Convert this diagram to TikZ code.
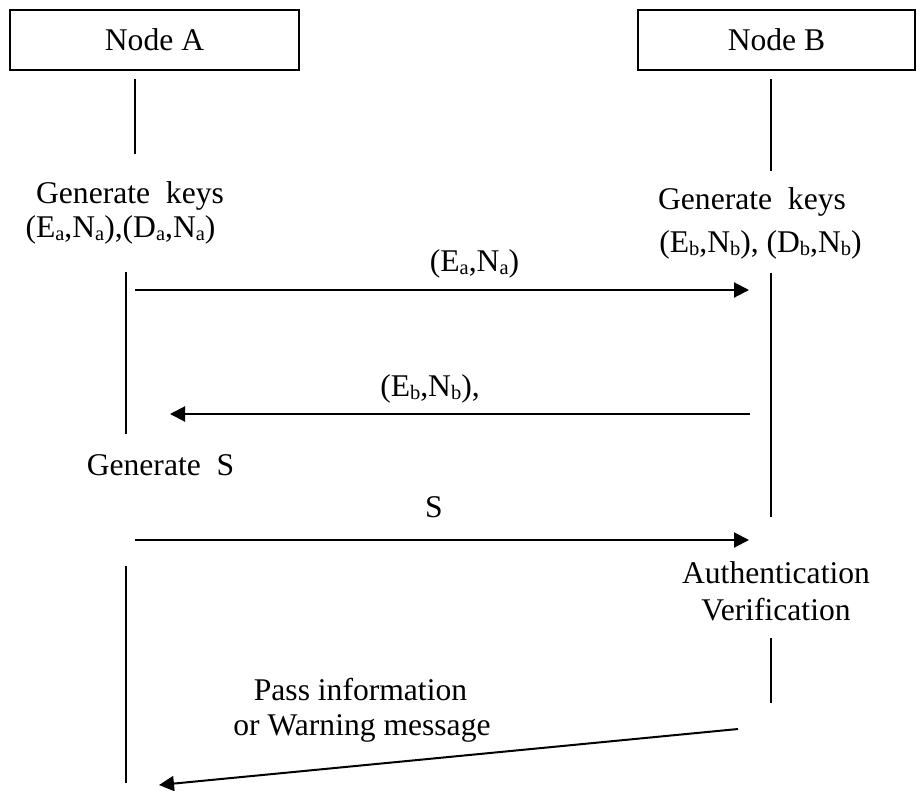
\documentclass[tikz,border=0pt]{standalone}
\usepackage{fontspec}
\setmainfont{Liberation Serif}
\usetikzlibrary{arrows.meta}
% lowered, smaller index letter (E_a, N_b, ...)
\newcommand\lowr[1]{\raisebox{-3.5pt}{\fontsize{20.5pt}{22pt}\selectfont #1}}
\begin{document}
\begin{tikzpicture}[x=1pt,y=-1pt,
  every node/.style={font=\fontsize{31.6pt}{36pt}\selectfont, inner sep=0pt},
  party/.style={draw, line width=2pt, minimum height=60pt},
  txt/.style={anchor=base},
  life/.style={line width=1.8pt},
  msg/.style={line width=2pt, -{Triangle[length=15pt,width=15pt]}}]
\useasboundingbox (0,0) rectangle (917,790);

% participants
\node[party, minimum width=289pt] (boxA) at (154.5,40) {Node A};
\node[party, minimum width=277pt] (boxB) at (776.5,40) {Node B};

% lifeline pieces of Node A
\coordinate (a1t) at (135,79);  \coordinate (a1b) at (135,154);
\coordinate (a2t) at (126,272); \coordinate (a2b) at (126,434);
\coordinate (a3t) at (126,566); \coordinate (a3b) at (126,783);
% lifeline pieces of Node B
\coordinate (b1t) at (771,79);  \coordinate (b1b) at (771,171);
\coordinate (b2t) at (771,273); \coordinate (b2b) at (771,517);
\coordinate (b3t) at (771,638); \coordinate (b3b) at (771,703);

\draw[life] (a1t) -- (a1b);
\draw[life] (a2t) -- (a2b);
\draw[life] (a3t) -- (a3b);
\draw[life] (b1t) -- (b1b);
\draw[life] (b2t) -- (b2b);
\draw[life] (b3t) -- (b3b);

% message end points
\coordinate (m1s) at (135,290); \coordinate (m1e) at (749,290);
\coordinate (m2s) at (750,414); \coordinate (m2e) at (170,414);
\coordinate (m3s) at (135,540); \coordinate (m3e) at (749,540);
\coordinate (m4s) at (738,729); \coordinate (m4e) at (159,785);

\draw[msg] (m1s) -- (m1e);
\draw[msg] (m2s) -- (m2e);
\draw[msg] (m3s) -- (m3e);
\draw[msg] (m4s) -- (m4e);

% texts
\node[txt] (genA)  at (130,203) {Generate~~keys};
\node[txt] (keysA) at (120.5,237) {(E\lowr{a},N\lowr{a}),(D\lowr{a},N\lowr{a})};
\node[txt] (genB)  at (752,209) {Generate~~keys};
\node[txt] (keysB) at (760.5,252) {(E\lowr{b},N\lowr{b}), (D\lowr{b},N\lowr{b})};
\node[txt] (pubA)  at (474.5,271) {(E\lowr{a},N\lowr{a})};
\node[txt] (pubB)  at (430,396) {(E\lowr{b},N\lowr{b}),};
\node[txt] (genS)  at (160.5,475) {Generate~~S};
\node[txt] (sig)   at (434,517) {S};
\node[txt] (auth)  at (776,583) {Authentication};
\node[txt] (verif) at (776,620) {Verification};
\node[txt] (pass)  at (360.5,700) {Pass information};
\node[txt] (warn)  at (362,735) {or Warning message};
\end{tikzpicture}
\end{document}
